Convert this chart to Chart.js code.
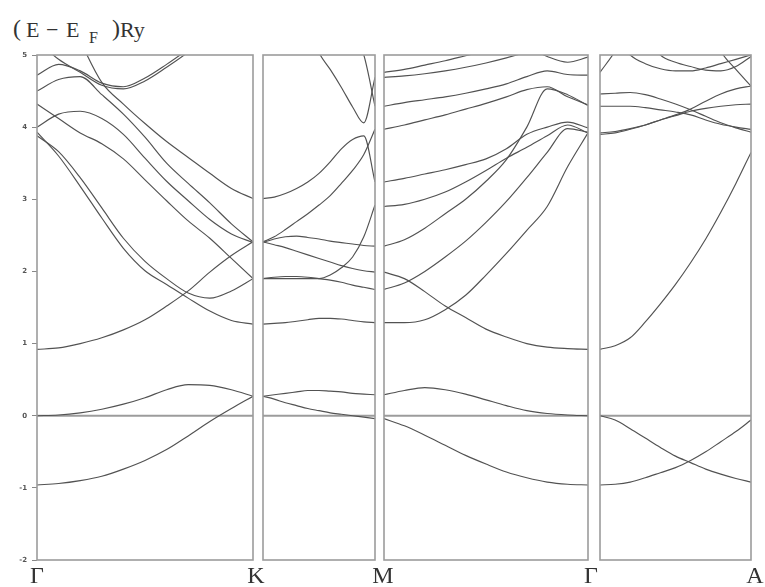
<!DOCTYPE html>
<html>
<head>
<meta charset="utf-8">
<script src="https://cdn.jsdelivr.net/npm/chart.js@4.4.1/dist/chart.umd.min.js"></script>
<style>
  body { margin: 0; background: #fff; }
  #wrap { position: relative; width: 765px; height: 587px; overflow: hidden; }
  canvas { position: absolute; }
  .t { position: absolute; font-family: "Liberation Serif", "DejaVu Serif", serif; color: #333; line-height: 1; white-space: nowrap; }
  .k { position: absolute; top: 563px; font-family: "Liberation Serif", serif; font-size: 24px; color: #333; line-height: 1; transform: translateX(-50%); }
</style>
</head>
<body>
<div id="wrap">
  <span class="t" style="left:13px;top:16px;font-size:24px">(</span>
  <span class="t" style="left:26px;top:19px;font-size:22px">E</span>
  <span class="t" style="left:46px;top:19px;font-size:22px">−</span>
  <span class="t" style="left:66px;top:19px;font-size:22px">E</span>
  <span class="t" style="left:89px;top:30px;font-size:16px">F</span>
  <span class="t" style="left:112px;top:16px;font-size:24px">)</span>
  <span class="t" style="left:120px;top:19px;font-size:22px">Ry</span>

  <canvas id="c1"></canvas>
  <canvas id="c2"></canvas>
  <canvas id="c3"></canvas>
  <canvas id="c4"></canvas>
</div>
<script>
// ========== DATA ==========
// fractional position along each k-path segment
const kGrid = [0, 0.1, 0.2, 0.3, 0.4, 0.5, 0.6, 0.7, 0.8, 0.9, 1];
const yTicks = [-2, -1, 0, 1, 2, 3, 4, 5];
const kLabels = ['Γ', 'K', 'M', 'Γ', 'A'];

// bands (E - EF, Ry) on the Γ-K segment
const bandsGK = [
    [0, 0.01, 0.04, 0.09, 0.16, 0.25, 0.36, 0.43, 0.42, 0.36, 0.27],
    [-0.96, -0.94, -0.9, -0.84, -0.74, -0.62, -0.47, -0.28, -0.08, 0.1, 0.27],
    [0.92, 0.94, 1.0, 1.08, 1.19, 1.33, 1.52, 1.73, 1.99, 2.22, 2.41],
    [3.93, 3.6, 3.18, 2.74, 2.32, 2.01, 1.82, 1.63, 1.45, 1.32, 1.27],
    [3.88, 3.66, 3.3, 2.88, 2.46, 2.14, 1.9, 1.7, 1.63, 1.73, 1.9],
    [4.32, 4.12, 3.92, 3.77, 3.56, 3.27, 2.98, 2.7, 2.46, 2.18, 1.9],
    [4.0, 4.18, 4.22, 4.12, 3.9, 3.57, 3.25, 2.98, 2.72, 2.52, 2.4],
    [4.5, 4.66, 4.7, 4.45, 4.18, 3.86, 3.5, 3.22, 2.95, 2.66, 2.41],
    [6.6, 5.9, 5.2, 4.62, 4.32, 4.05, 3.8, 3.58, 3.36, 3.15, 3.01],
    [4.72, 4.87, 4.78, 4.61, 4.56, 4.68, 4.87, 5.08, 5.3, 5.55, 5.8],
    [5.2, 4.94, 4.76, 4.58, 4.53, 4.64, 4.83, 5.04, 5.28, 5.5, 5.75]
];

// K-M segment
const bandsKM = [
    [0.27, 0.29, 0.31, 0.33, 0.35, 0.35, 0.34, 0.33, 0.31, 0.3, 0.29],
    [0.27, 0.23, 0.18, 0.14, 0.1, 0.07, 0.04, 0.02, 0.0, -0.02, -0.04],
    [1.27, 1.28, 1.29, 1.31, 1.33, 1.35, 1.35, 1.34, 1.32, 1.3, 1.29],
    [1.9, 1.92, 1.93, 1.93, 1.92, 1.9, 1.88, 1.85, 1.81, 1.78, 1.75],
    [1.9, 1.9, 1.9, 1.9, 1.9, 1.9, 1.95, 2.05, 2.2, 2.48, 2.92],
    [2.41, 2.37, 2.33, 2.28, 2.23, 2.18, 2.13, 2.08, 2.04, 2.01, 1.99],
    [2.4, 2.45, 2.48, 2.49, 2.47, 2.45, 2.42, 2.4, 2.38, 2.36, 2.35],
    [2.41, 2.48, 2.58, 2.69, 2.8, 2.92, 3.05, 3.22, 3.4, 3.62, 3.97],
    [3.01, 3.03, 3.08, 3.15, 3.24, 3.36, 3.52, 3.7, 3.83, 3.88, 3.24],
    [7.0, 6.6, 6.2, 5.8, 5.4, 5.03, 4.8, 4.55, 4.28, 4.06, 4.69],
    [9.0, 8.5, 8.0, 7.5, 7.0, 6.5, 6.0, 5.6, 5.3, 5.0, 4.29]
];

// M-Γ segment
const bandsMG = [
    [0.29, 0.35, 0.39, 0.36, 0.3, 0.22, 0.14, 0.07, 0.03, 0.01, 0.0],
    [-0.04, -0.14, -0.27, -0.41, -0.55, -0.67, -0.78, -0.86, -0.92, -0.95, -0.96],
    [1.99, 1.9, 1.72, 1.52, 1.36, 1.2, 1.09, 1.0, 0.95, 0.93, 0.92],
    [1.29, 1.29, 1.33, 1.47, 1.67, 1.95, 2.25, 2.57, 2.9, 3.45, 3.92],
    [1.75, 1.84, 2.0, 2.2, 2.42, 2.68, 2.97, 3.3, 3.65, 3.98, 3.93],
    [2.35, 2.44, 2.6, 2.8, 3.0, 3.25, 3.55, 4.0, 4.53, 4.45, 4.3],
    [2.9, 2.93, 3.0, 3.1, 3.24, 3.4, 3.57, 3.72, 3.88, 4.03, 3.92],
    [3.24, 3.29, 3.35, 3.41, 3.48, 3.56, 3.7, 3.9, 4.0, 4.07, 3.99],
    [3.97, 4.03, 4.1, 4.17, 4.25, 4.33, 4.42, 4.52, 4.56, 4.42, 4.31],
    [4.29, 4.34, 4.38, 4.42, 4.47, 4.53, 4.6, 4.7, 4.78, 4.73, 4.72],
    [4.69, 4.71, 4.74, 4.78, 4.83, 4.89, 4.96, 5.04, 5.12, 5.2, 5.3],
    [4.76, 4.8, 4.86, 4.92, 4.99, 5.06, 5.14, 5.22, 5.3, 5.4, 5.5],
    [6.5, 6.3, 6.1, 5.9, 5.7, 5.5, 5.3, 5.12, 4.98, 4.9, 4.97]
];

// Γ-A segment
const bandsGA = [
    [0, -0.06, -0.18, -0.31, -0.44, -0.56, -0.65, -0.74, -0.81, -0.87, -0.92],
    [-0.96, -0.95, -0.92, -0.86, -0.79, -0.72, -0.62, -0.5, -0.36, -0.22, -0.06],
    [0.92, 0.97, 1.08, 1.3, 1.55, 1.82, 2.12, 2.45, 2.82, 3.22, 3.65],
    [3.9, 3.92, 3.97, 4.03, 4.1, 4.16, 4.22, 4.26, 4.29, 4.31, 4.32],
    [3.92, 3.94, 3.98, 4.03, 4.1, 4.17, 4.25, 4.36, 4.46, 4.53, 4.57],
    [4.29, 4.29, 4.29, 4.27, 4.24, 4.21, 4.17, 4.1, 4.04, 4.0, 3.97],
    [4.46, 4.47, 4.48, 4.45, 4.39, 4.32, 4.24, 4.15, 4.06, 3.99, 3.93],
    [5.5, 5.25, 5.0, 4.88, 4.81, 4.78, 4.78, 4.82, 4.88, 4.94, 5.0],
    [6.5, 6.1, 5.7, 5.3, 5.0, 4.9, 4.84, 4.79, 4.78, 4.84, 4.98],
    [4.76, 5.05, 5.4, 5.8, 6.2, 6.6, 7.0, 7.4, 7.8, 8.2, 8.6],
    [9.0, 8.5, 8.0, 7.5, 7.0, 6.5, 6.0, 5.5, 5.05, 4.8, 4.57]
];

// ========== PANELS ==========
const panels = [
    { id: 'c1', left: 37, right: 253, bands: bandsGK, axis: true },
    { id: 'c2', left: 263, right: 375, bands: bandsKM, axis: false },
    { id: 'c3', left: 384, right: 588, bands: bandsMG, axis: false },
    { id: 'c4', left: 600, right: 751, bands: bandsGA, axis: false }
];
const labelX = [37, 256, 383, 591, 755];
const areaTop = 55, areaBottom = 560, pad = 6;

const framePlugin = {
    id: 'frame',
    afterDatasetsDraw(chart) {
        const { ctx, chartArea: a } = chart;
        ctx.save();
        ctx.strokeStyle = '#9c9c9c';
        ctx.lineWidth = 1.6;
        ctx.strokeRect(a.left, a.top, a.right - a.left, a.bottom - a.top);
        ctx.restore();
    }
};

panels.forEach(p => {
    const canvas = document.getElementById(p.id);
    const x0 = p.axis ? 0 : p.left - pad;
    const w = p.right + pad - x0;
    const h = areaBottom - areaTop + 2 * pad;
    canvas.width = w;
    canvas.height = h;
    canvas.style.left = x0 + 'px';
    canvas.style.top = (areaTop - pad) + 'px';

    const datasets = p.bands.map(band => ({
        data: band.map((e, i) => ({ x: kGrid[i], y: e })),
        borderColor: '#525252',
        borderWidth: 1.15,
        cubicInterpolationMode: 'monotone',
        clip: 0
    }));
    // Fermi level
    datasets.push({
        data: [{ x: 0, y: 0 }, { x: 1, y: 0 }],
        borderColor: '#9c9c9c',
        borderWidth: 2,
        clip: 0
    });

    const yScale = {
        type: 'linear',
        min: -2,
        max: 5,
        display: p.axis,
        afterBuildTicks: s => { s.ticks = yTicks.map(v => ({ value: v })); },
        ticks: {
            color: '#555',
            padding: 5,
            font: { family: 'DejaVu Sans', size: 7, weight: 'bold' }
        },
        grid: { drawOnChartArea: false, tickLength: 5, color: '#888' },
        border: { display: false }
    };
    if (p.axis) {
        yScale.afterFit = s => {
            s.width = p.left;
            s.paddingTop = 0;
            s.paddingBottom = 0;
        };
    }

    new Chart(canvas.getContext('2d'), {
        type: 'line',
        data: { datasets },
        plugins: [framePlugin],
        options: {
            responsive: false,
            animation: false,
            devicePixelRatio: 1,
            layout: { padding: { top: pad, bottom: pad, right: pad, left: p.axis ? 0 : pad } },
            elements: { point: { radius: 0 } },
            plugins: { legend: { display: false }, tooltip: { enabled: false } },
            scales: {
                x: { type: 'linear', min: 0, max: 1, display: false },
                y: yScale
            }
        }
    });
});

// k-point labels
kLabels.forEach((lab, i) => {
    const d = document.createElement('div');
    d.className = 'k';
    d.textContent = lab;
    d.style.left = labelX[i] + 'px';
    document.getElementById('wrap').appendChild(d);
});
</script>
</body>
</html>
